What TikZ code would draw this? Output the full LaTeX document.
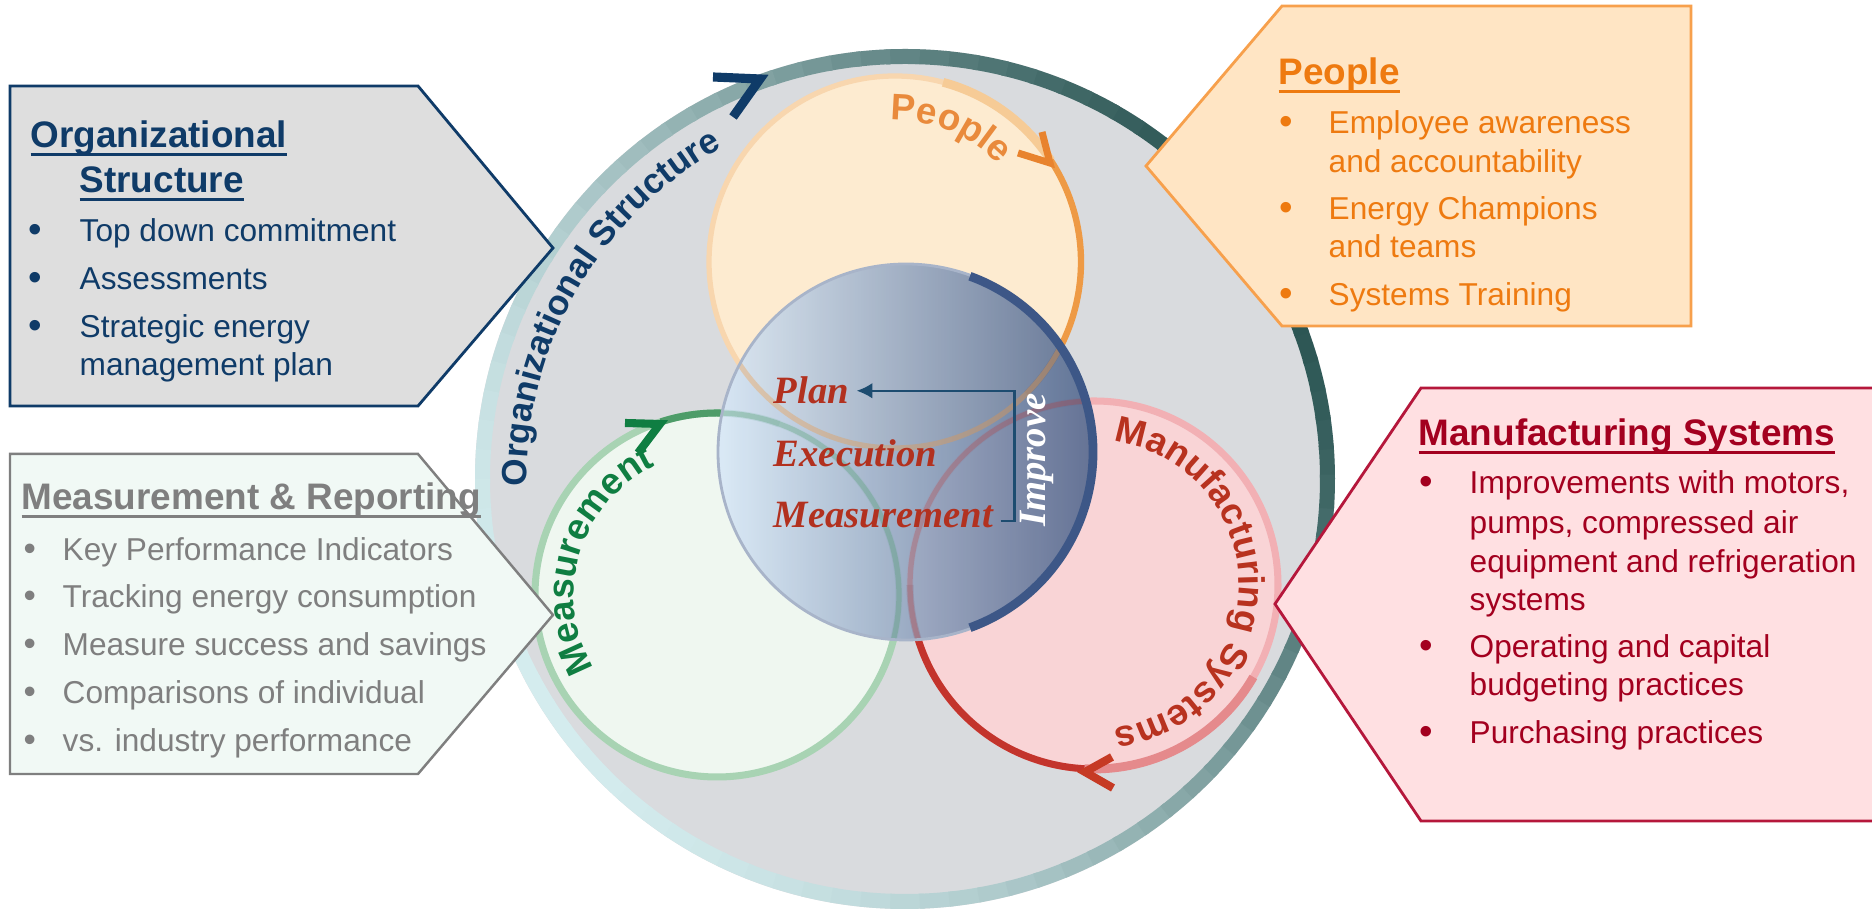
\documentclass[tikz,border=0pt]{standalone}
\usepackage{fontspec}
\setmainfont{Liberation Sans}
\newfontfamily\pdcafont{Liberation Serif}
\usetikzlibrary{decorations.text,arrows.meta}

\definecolor{orgnavy}{HTML}{0F3B68}
\definecolor{orgfill}{HTML}{DEDEDE}
\definecolor{measgray}{HTML}{7F7F7F}
\definecolor{measbox}{HTML}{F1F9F5}
\definecolor{pplorange}{HTML}{EE7A10}
\definecolor{pplbox}{HTML}{FFE5C4}
\definecolor{pplborder}{HTML}{F7A04C}
\definecolor{manred}{HTML}{A3001F}
\definecolor{manbox}{HTML}{FFE0E2}
\definecolor{manborder}{HTML}{B5173B}
\definecolor{diskgray}{HTML}{D9DBDE}
\definecolor{ringdark}{HTML}{2A5452}
\definecolor{ringlight}{HTML}{D4ECEE}
\definecolor{pplfill}{HTML}{FDEBD0}
\definecolor{pplline}{HTML}{F8D6AE}
\definecolor{pplmid}{HTML}{F6CB96}
\definecolor{pplstrong}{HTML}{EE9A45}
\definecolor{pplarrow}{HTML}{E8832E}
\definecolor{pplcurve}{HTML}{E98A3C}
\definecolor{measfill}{HTML}{EFF7F0}
\definecolor{measline}{HTML}{A8D3B3}
\definecolor{measstrong}{HTML}{4E9C69}
\definecolor{measarrow}{HTML}{0F7E42}
\definecolor{manfill}{HTML}{F9D4D6}
\definecolor{manline}{HTML}{F2B0B4}
\definecolor{manmid}{HTML}{E58A8C}
\definecolor{manstrong}{HTML}{C3342C}
\definecolor{manarrow}{HTML}{C63A24}
\definecolor{mancurve}{HTML}{B8321F}
\definecolor{ctrleft}{HTML}{D8E8F7}
\definecolor{ctrmid}{HTML}{B6C3D6}
\definecolor{ctrright}{HTML}{50658C}
\definecolor{ctrrim}{HTML}{3D5787}
\definecolor{pdcared}{HTML}{B2311F}
\definecolor{connblue}{HTML}{1D4C70}

\newcommand{\undl}[1]{\setbox0\hbox{#1}\rlap{\rule[-2.4pt]{\wd0}{1.1pt}}\box0}

\begin{document}
\begin{tikzpicture}[
	item/.style={anchor=base west,inner sep=0pt,font=\fontsize{9}{11}\selectfont},
	dot/.style={anchor=base west,inner sep=0pt,font=\fontsize{#1}{11}\selectfont},
	boxtitle/.style={anchor=base west,inner sep=0pt,font=\fontsize{10.5}{12.5}\selectfont\bfseries},
	pdca/.style={anchor=base west,inner sep=2pt,font=\pdcafont\fontsize{11}{13}\selectfont\bfseries\itshape,text=pdcared},
	chevron/.style={line width=#1,line cap=butt,line join=miter},
	curvetext/.style={decorate,decoration={text along path,text align=center,text={#1}}},
	]
	%\draw[help lines, color=black, step=1cm, ultra thin](0,0)grid(18.72,9.13);
	\useasboundingbox (0,0) rectangle (18.72,9.13);
	\fill[white] (0,0) rectangle (18.72,9.13);
	
	\coordinate (disk) at (9.05,4.34);
	\coordinate (ppl) at (8.95,6.51);
	\coordinate (meas) at (7.17,3.18);
	\coordinate (man) at (10.94,3.28);
	\coordinate (ctr) at (9.06,4.61);
	
	% outer disk and ring
	\fill[diskgray] (disk) circle (4.30);
	\foreach \a in {0,4,...,356}{
		\pgfmathsetmacro\tval{(1+cos(\a-30))/2}
		\pgfmathsetmacro\mixval{100*\tval*(0.5+0.5*\tval)}
		\draw[line width=0.15cm,draw=ringdark!\mixval!ringlight] (disk) ++(\a:4.225) arc (\a:\a+4.6:4.225);
	}
	
	% three circles
	\fill[pplfill] (ppl) circle (1.86);
	\draw[pplline,line width=1.5pt] (ppl) circle (1.86);
	\draw[pplmid,line width=2.5pt] (ppl) ++(75:1.86) arc (75:33:1.86);
	\draw[pplstrong,line width=1.8pt] (ppl) ++(33:1.86) arc (33:-45:1.86);
	
	\fill[measfill] (meas) circle (1.82);
	\draw[measline,line width=2pt] (meas) circle (1.82);
	\draw[measstrong,line width=2pt] (meas) ++(108:1.82) arc (108:70:1.82);
	
	\fill[manfill] (man) circle (1.84);
	\draw[manline,line width=2pt] (man) circle (1.84);
	\draw[manmid,line width=2.5pt] (man) ++(330:1.84) arc (330:267:1.84);
	\draw[manstrong,line width=2pt] (man) ++(267:1.84) arc (267:180:1.84);
	
	% centre circle
	\shade[left color=ctrleft,middle color=ctrmid,right color=ctrright,opacity=0.88] (ctr) circle (1.88);
	\begin{scope}
		\clip (ctr) circle (1.88);
		\draw[pplstrong,opacity=0.35,line width=1.5pt] (ppl) circle (1.86);
		\draw[measstrong,opacity=0.3,line width=1.5pt] (meas) circle (1.82);
		\draw[manstrong,opacity=0.25,line width=1.5pt] (man) circle (1.84);
	\end{scope}
	\draw[ctrrim!45,line width=0.8pt] (ctr) circle (1.88);
	\draw[ctrrim,line width=2.5pt] (ctr) ++(-70:1.87) arc (-70:70:1.87);
	
	% arrows on the rings
	\draw[chevron=2.6pt,orgnavy] (7.13,8.36)--(7.60,8.34)--(7.33,7.96);
	\draw[chevron=2pt,pplarrow] (10.42,7.81)--(10.50,7.50)--(10.18,7.60);
	\draw[chevron=2.3pt,measarrow] (6.25,4.90)--(6.60,4.89)--(6.38,4.60);
	\draw[chevron=2.3pt,manarrow] (11.12,1.56)--(10.85,1.41)--(11.13,1.25);
	
	% curved labels
	\path[shift={(9.05,4.34)},curvetext={|\fontsize{10}{12}\selectfont\bfseries\color{orgnavy}|Organizational Structure}] (200:3.78) arc (200:100:3.78);
	\path[shift={(8.95,6.51)},curvetext={|\fontsize{10.5}{12}\selectfont\bfseries\color{pplcurve}|People}] (115:1.42) arc (115:20:1.42);
	\path[shift={(7.17,3.18)},curvetext={|\fontsize{10.5}{12}\selectfont\bfseries\color{measarrow}|Measurement}] (230:1.43) arc (230:96:1.43);
	\path[shift={(10.94,3.28)},curvetext={|\fontsize{10.5}{12}\selectfont\bfseries\color{mancurve}|Manufacturing Systems}] (95:1.45) arc (95:-95:1.45);
	
	% plan / execution / measurement
	\node[pdca] (cplan) at (7.66,5.09) {Plan};
	\node[pdca] (cexec) at (7.66,4.46) {Execution};
	\node[pdca] (cmeas) at (7.66,3.85) {Measurement};
	\draw[connblue,line width=0.7pt,-{Latex[length=4.5pt,width=4.5pt]}] ([yshift=2pt]cmeas.base east) -- ++(0.14,0) |- (cplan.east);
	\node[pdca,anchor=center,text=white,rotate=90] (cimp) at (10.37,4.53) {Improve};
	
	% organizational structure box
	\draw[fill=orgfill,draw=orgnavy,line width=0.8pt] (0.10,8.27)--(4.18,8.27)--(5.53,6.65)--(4.18,5.07)--(0.10,5.07)--cycle;
	\begin{scope}[text=orgnavy]
		\node[boxtitle] (orgt1) at (0.30,7.65) {\undl{Organizational}};
		\node[boxtitle] (orgt2) at (0.79,7.20) {\undl{Structure}};
		\node[dot=11] (orgb1) at (0.28,6.70) {•};
		\node[dot=11] (orgb2) at (0.28,6.22) {•};
		\node[dot=11] (orgb3) at (0.28,5.74) {•};
		\node[item] (org1) at (0.79,6.71) {Top down commitment};
		\node[item] (org2) at (0.79,6.23) {Assessments};
		\node[item] (org3) at (0.79,5.75) {Strategic energy};
		\node[item] (org4) at (0.79,5.37) {management plan};
	\end{scope}
	
	% measurement & reporting box
	\draw[fill=measbox,draw=measgray,line width=0.7pt] (0.10,4.59)--(4.18,4.59)--(5.53,2.98)--(4.18,1.39)--(0.10,1.39)--cycle;
	\begin{scope}[text=measgray]
		\node[boxtitle] (meast) at (0.21,4.03) {\undl{Measurement \& Reporting}};
		\node[dot=10] (measb1) at (0.23,3.52) {•};
		\node[dot=10] (measb2) at (0.23,3.05) {•};
		\node[dot=10] (measb3) at (0.23,2.57) {•};
		\node[dot=10] (measb4) at (0.23,2.09) {•};
		\node[dot=10] (measb5) at (0.23,1.61) {•};
		\node[item] (meas1) at (0.62,3.52) {Key Performance Indicators};
		\node[item] (meas2) at (0.62,3.05) {Tracking energy consumption};
		\node[item] (meas3) at (0.62,2.57) {Measure success and savings};
		\node[item] (meas4) at (0.62,2.09) {Comparisons of individual};
		\node[item] (meas5) at (0.62,1.61) {vs. industry performance};
	\end{scope}
	
	% people box
	\draw[fill=pplbox,draw=pplborder,line width=0.8pt] (12.82,9.07)--(16.91,9.07)--(16.91,5.87)--(12.82,5.87)--(11.46,7.47)--cycle;
	\begin{scope}[text=pplorange]
		\node[boxtitle] (pplt) at (12.78,8.28) {\undl{People}};
		\node[dot=11] (pplb1) at (12.79,7.78) {•};
		\node[dot=11] (pplb2) at (12.79,6.92) {•};
		\node[dot=11] (pplb3) at (12.79,6.06) {•};
		\node[item] (ppl1) at (13.28,7.79) {Employee awareness};
		\node[item] (ppl2) at (13.28,7.40) {and accountability};
		\node[item] (ppl3) at (13.28,6.93) {Energy Champions};
		\node[item] (ppl4) at (13.28,6.55) {and teams};
		\node[item] (ppl5) at (13.28,6.07) {Systems Training};
	\end{scope}
	
	% manufacturing systems box
	\fill[manbox] (14.21,5.25)--(18.80,5.25)--(18.80,0.92)--(14.21,0.92)--(12.75,3.09)--cycle;
	\draw[manborder,line width=0.8pt] (18.80,5.25)--(14.21,5.25)--(12.75,3.09)--(14.21,0.92)--(18.80,0.92);
	\begin{scope}[text=manred]
		\node[boxtitle] (mant) at (14.18,4.67) {\undl{Manufacturing Systems}};
		\node[dot=11] (manb1) at (14.19,4.18) {•};
		\node[dot=11] (manb2) at (14.19,2.54) {•};
		\node[dot=11] (manb3) at (14.19,1.68) {•};
		\node[item] (man1) at (14.69,4.19) {Improvements with motors,};
		\node[item] (man2) at (14.69,3.79) {pumps, compressed air};
		\node[item] (man3) at (14.69,3.40) {equipment and refrigeration};
		\node[item] (man4) at (14.69,3.02) {systems};
		\node[item] (man5) at (14.69,2.55) {Operating and capital};
		\node[item] (man6) at (14.69,2.17) {budgeting practices};
		\node[item] (man7) at (14.69,1.69) {Purchasing practices};
	\end{scope}
	
\end{tikzpicture}
\end{document}
